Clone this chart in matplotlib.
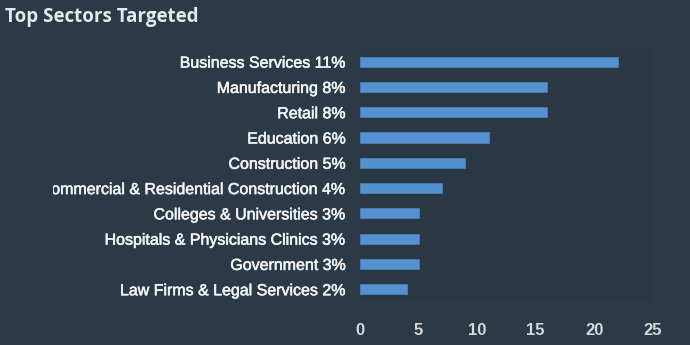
import matplotlib
matplotlib.use("Agg")
import matplotlib.pyplot as plt
import matplotlib.patheffects as pe
from matplotlib.transforms import Bbox

sectors = [
    "Business Services 11%",
    "Manufacturing 8%",
    "Retail 8%",
    "Education 6%",
    "Construction 5%",
    "Commercial & Residential Construction 4%",
    "Colleges & Universities 3%",
    "Hospitals & Physicians Clinics 3%",
    "Government 3%",
    "Law Firms & Legal Services 2%",
]
counts = [22, 16, 16, 11, 9, 7, 5, 5, 5, 4]
x_ticks = [0, 5, 10, 15, 20, 25]

bg = "#2b3a46"
plot_bg = "#2a3844"
bar_color = "#5591d0"
text_color = "#f2f3f5"

fig = plt.figure(figsize=(6.9, 3.45), dpi=100, facecolor=bg)
ax = fig.add_axes([0.5217, 0.125, 0.4243, 0.733], facecolor=plot_bg)

y = list(range(len(sectors)))
ax.barh(y, counts, height=0.4, color=bar_color, edgecolor="#4a80b8", linewidth=0.6)
ax.set_ylim(len(sectors) - 0.5, -0.5)
ax.set_xlim(0, 25)
ax.set_xticks(x_ticks)
ax.set_xticklabels([str(t) for t in x_ticks], fontfamily="Liberation Sans",
                   fontsize=12, fontweight="bold", color="#d4d8dc")
ax.set_yticks(y)
ax.set_yticklabels(sectors, fontfamily="Liberation Sans", fontsize=11.5, color=text_color)
ax.tick_params(axis="x", length=0, pad=15)
ax.tick_params(axis="y", length=0, pad=10)
for s in ax.spines.values():
    s.set_visible(False)

# Category labels live in a panel whose left edge trims overly long names
label_panel = Bbox.from_extents(53, 0, 690, 345)
for lbl in ax.get_yticklabels():
    lbl.set_path_effects([pe.withStroke(linewidth=0.4, foreground=text_color)])
    lbl.set_clip_box(label_panel)
    lbl.set_clip_on(True)

fig.text(0.007, 0.95, "Top Sectors Targeted", fontfamily="Open Sans", fontweight="bold",
         fontsize=13.5, color="#e6e9ec", ha="left", va="center")

fig.savefig("out.png", dpi=100, facecolor=bg)
